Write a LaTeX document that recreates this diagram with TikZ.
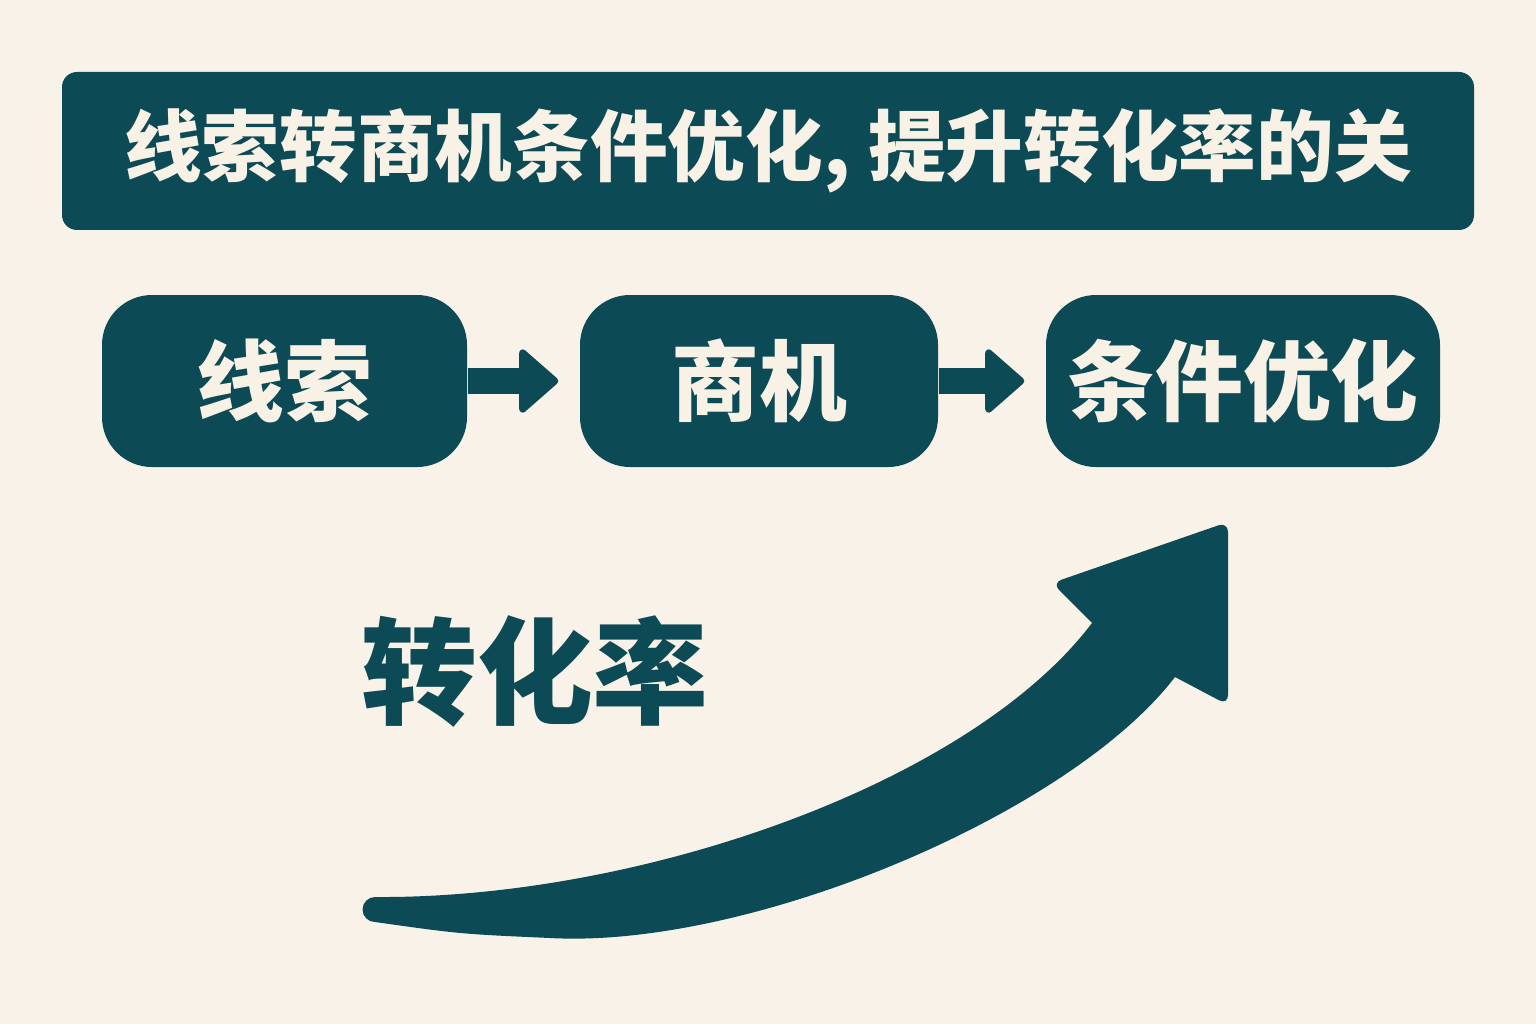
\documentclass[tikz,border=0pt]{standalone}
\usepackage{fontspec}
\setmainfont{Noto Sans CJK SC}
\usetikzlibrary{arrows.meta}
\definecolor{deepteal}{HTML}{0C4A55}
\definecolor{paper}{HTML}{F8F2E9}
\definecolor{cream}{HTML}{F8F1E6}

\begin{document}
\begin{tikzpicture}[
    box/.style={fill=deepteal, text=cream, rounded corners=0.5cm, minimum height=1.72cm,
        font=\bfseries\fontsize{25}{25}\selectfont},
    link/.style={deepteal, line width=0.26cm, shorten >=0.21cm,
        -{Triangle[length=0.41cm, width=0.70cm, line width=2pt, round]}}
]
    \fill[paper] (0,0) rectangle (15.36,10.24);
    \node[box, rounded corners=0.15cm, minimum width=14.12cm, minimum height=1.58cm,
        font=\bfseries\fontsize{22.1}{22.1}\selectfont] (T) at (7.68,8.73) {线索转商机条件优化, 提升转化率的关};
    \node[box, minimum width=3.65cm] (L) at (2.845,6.43) {线索};
    \node[box, minimum width=3.58cm] (O) at (7.59,6.43) {商机};
    \node[box, minimum width=3.94cm] (C) at (12.43,6.43) {条件优化};
    \draw[link] (L) -- (O);
    \draw[link] (O) -- (C);
    \node[text=deepteal, font=\bfseries\fontsize{33}{33}\selectfont] (R) at (5.35,3.52) {转化率};
    % big rising arrow
    \coordinate (S) at (3.75,1.27);
    \coordinate (N) at (10.92,4.01);
    \coordinate (P) at (10.52,4.41);
    \coordinate (H) at (12.28,5.02);
    \coordinate (Q) at (12.28,3.19);
    \coordinate (M) at (11.75,3.47);
    \coordinate (B) at (5.5,0.86);
    \fill[deepteal] (S) .. controls (6.4,1.25) and (9.7,2.4) .. (N)
        [rounded corners=0.1cm] -- (P) -- (H) -- (Q) [sharp corners] -- (M)
        .. controls (10.7,2.1) and (7.5,0.75) .. (B)
        .. controls (4.6,0.9) .. (3.75,1.02)
        arc[start angle=270, end angle=90, radius=0.125] -- cycle;
\end{tikzpicture}
\end{document}
